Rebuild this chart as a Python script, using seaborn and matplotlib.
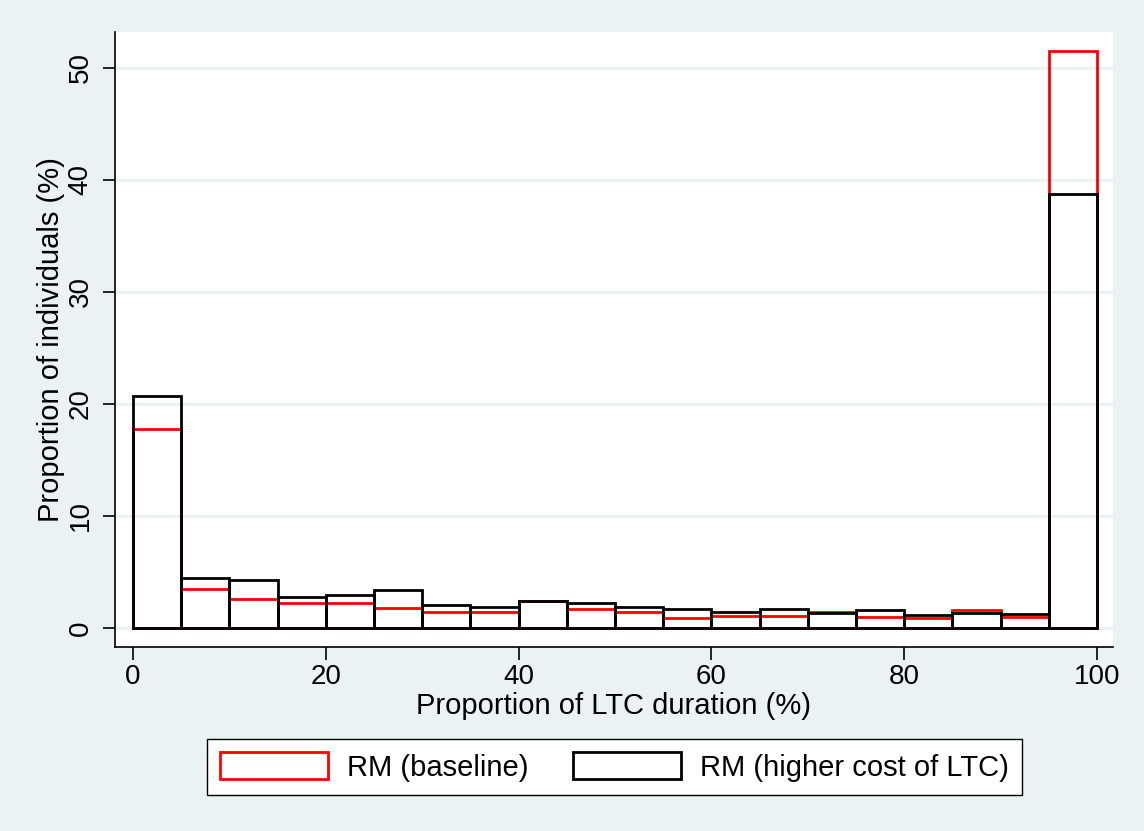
import numpy as np
import pandas as pd
import matplotlib
matplotlib.use("Agg")
import matplotlib.pyplot as plt
import seaborn as sns
from matplotlib.patches import Patch

# bins of 5 percentage points, 0..100
bin_edges = list(range(0, 105, 5))
bin_mids = [e + 2.5 for e in bin_edges[:-1]]

# proportion of individuals (%) per bin
baseline = [17.8, 3.5, 2.6, 2.2, 2.2, 1.75, 1.4, 1.4, 2.45, 1.65,
            1.45, 0.85, 1.1, 1.1, 1.45, 1.0, 0.85, 1.6, 1.0, 51.5]
higher_cost = [20.75, 4.45, 4.25, 2.75, 2.9, 3.35, 2.05, 1.9, 2.45, 2.2,
               1.9, 1.7, 1.4, 1.7, 1.3, 1.6, 1.15, 1.3, 1.25, 38.75]

series_names = ["RM (baseline)", "RM (higher cost of LTC)"]
series_colors = ["#ff0000", "#000000"]

df = pd.DataFrame({
    "mid": bin_mids * 2,
    "pct": baseline + higher_cost,
    "series": [series_names[0]] * len(baseline) + [series_names[1]] * len(higher_cost),
})

sns.set_style("white")
plt.rcParams["font.family"] = ["Liberation Sans", "DejaVu Sans"]
plt.rcParams["text.color"] = "black"
plt.rcParams["axes.labelcolor"] = "black"

bg = "#eaf2f3"
fig = plt.figure(figsize=(11.44, 8.31), dpi=100, facecolor=bg)
ax = fig.add_axes([115 / 1144, 1 - 647 / 831, (1113 - 115) / 1144, (647 - 32) / 831])
ax.set_facecolor("white")

for name, col in zip(series_names, series_colors):
    sub = df[df["series"] == name]
    sns.histplot(data=sub, x="mid", weights="pct", bins=bin_edges, fill=False,
                 element="bars", color=col, edgecolor=col, linewidth=2.0, ax=ax)

ax.set_xlim(-1.87, 101.66)
ax.set_ylim(-1.7, 53.2)
ax.set_xticks([0, 20, 40, 60, 80, 100])
ax.set_yticks([0, 10, 20, 30, 40, 50])
ax.yaxis.grid(True, color=bg, linewidth=2)
ax.set_axisbelow(True)
for s in ["top", "right"]:
    ax.spines[s].set_visible(False)
for s in ["left", "bottom"]:
    ax.spines[s].set_color("#000000")
    ax.spines[s].set_linewidth(1.2)
ax.tick_params(axis="both", direction="out", length=9, width=1.2, labelsize=20,
               left=True, bottom=True, colors="black")
ax.tick_params(axis="y", labelrotation=90, pad=6.5)
for lab in ax.get_yticklabels():
    lab.set_va("center")
ax.set_xlabel("Proportion of LTC duration (%)", fontsize=21, labelpad=1, color="black")
ax.set_ylabel("Proportion of individuals (%)", fontsize=21, labelpad=2, color="black")

handles = [Patch(facecolor="white", edgecolor=c, linewidth=2.0, label=n)
           for n, c in zip(series_names, series_colors)]
leg = fig.legend(handles=handles, loc="center", ncol=2,
                 bbox_to_anchor=(614.5 / 1144, 1 - 767 / 831), fontsize=21,
                 frameon=True, fancybox=False, framealpha=1.0,
                 handlelength=3.7, handleheight=1.0,
                 columnspacing=1.55, handletextpad=0.65, borderpad=0.45)
leg.get_frame().set_facecolor("white")
leg.get_frame().set_edgecolor("black")
leg.get_frame().set_linewidth(1.0)
for t in leg.get_texts():
    t.set_color("black")

fig.savefig("out.png", dpi=100, facecolor=bg)
